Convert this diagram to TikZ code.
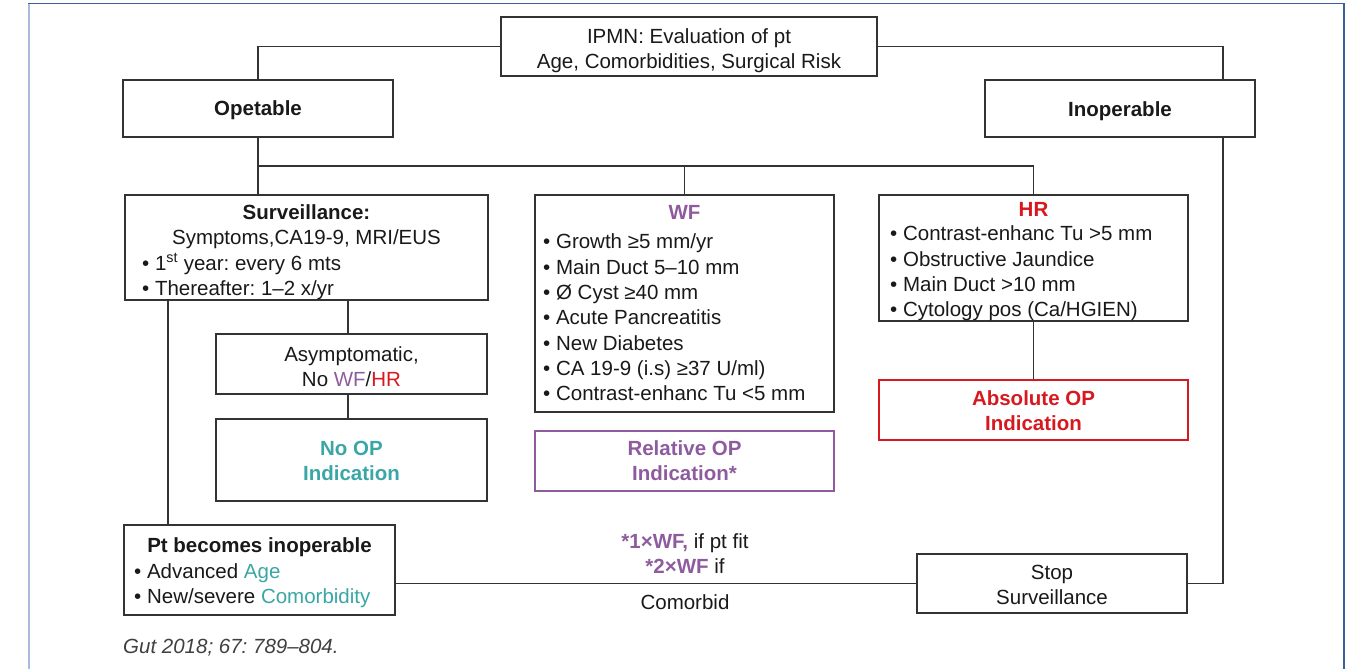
\documentclass[tikz,border=0pt]{standalone}
\usepackage{fontspec}
\setmainfont{Liberation Sans}
\frenchspacing
\definecolor{wfc}{HTML}{8E5C9E}
\definecolor{hrc}{HTML}{D7191F}
\definecolor{tealc}{HTML}{3AA6A6}
\definecolor{linec}{HTML}{333333}
\definecolor{frameL}{HTML}{A9BCDD}
\definecolor{frameT}{HTML}{3A5FA0}
\tikzset{
  box/.style={draw=linec, line width=1.4pt, rectangle, inner sep=0pt},
  rbox/.style={draw=hrc, line width=2.8pt, rectangle, inner sep=0pt},
  pbox/.style={draw=wfc, line width=2.8pt, rectangle, inner sep=0pt},
  txt/.style={inner sep=0pt, align=center, text=black!90,
    font=\fontsize{20.5}{25.3}\selectfont\frenchspacing},
  ltxt/.style={inner sep=0pt, align=left, anchor=west, text=black!90,
    font=\fontsize{20.5}{25.3}\selectfont\frenchspacing},
  conn/.style={draw=linec, line width=1.3pt},
}
\begin{document}
\begin{tikzpicture}[x=1pt, y=-1pt]
\useasboundingbox (0,0) rectangle (1354,669);
% frame
\draw[frameL, line width=2.5pt] (29,669) -- (29,4);
\draw[frameT, line width=1.2pt] (28,3.5) -- (1344,3.5) -- (1344,669);

% coordinates for connector columns
\coordinate (rx) at (1223,0);
\coordinate (lx) at (168,0);
\coordinate (ax) at (348,0);
\coordinate (br) at (0,166);

% boxes
\node[box, minimum width=376pt, minimum height=59pt] (ipmn) at (689,46.5) {};
\node[box, minimum width=270pt, minimum height=57pt] (ope) at (258,108.5) {};
\node[box, minimum width=270pt, minimum height=57pt] (inop) at (1120,108.5) {};
\node[box, minimum width=363pt, minimum height=105pt] (surv) at (306.5,247.5) {};
\node[box, minimum width=299pt, minimum height=217pt] (wf) at (684.5,303.5) {};
\node[box, minimum width=309pt, minimum height=126pt] (hr) at (1033.5,258) {};
\node[box, minimum width=271pt, minimum height=60pt] (asym) at (351.5,364) {};
\node[box, minimum width=271pt, minimum height=82pt] (noop) at (351.5,460) {};
\node[pbox, minimum width=299pt, minimum height=60pt] (rel) at (684.5,461) {};
\node[rbox, minimum width=309pt, minimum height=60pt] (abs) at (1033.5,410) {};
\node[box, minimum width=271pt, minimum height=90pt] (pt) at (259.5,570) {};
\node[box, minimum width=270pt, minimum height=59pt] (stop) at (1052,583.5) {};

% connectors
\draw[conn] (ipmn.west) -| (ope.north);
\draw[conn] (ipmn.east) -| (inop.north -| rx);
\draw[conn] (ope.south) -- (ope.south |- surv.north);
\draw[conn] (ope.south |- br) -| (hr.north);
\draw[conn] (wf.north |- br) -- (wf.north);
\draw[conn] (surv.south -| lx) -- (pt.north -| lx);
\draw[conn] (surv.south -| ax) -- (asym.north -| ax);
\draw[conn] (asym.south -| ax) -- (noop.north -| ax);
\draw[conn] (hr.south) -- (abs.north);
\draw[conn] (inop.south -| rx) |- (stop.east);
\draw[conn] (pt.east |- stop.west) -- (stop.west);

% texts
\node[txt] (tipmn) at (689,50.5) {IPMN: Evaluation of pt\\Age, Comorbidities, Surgical Risk};
\node[txt] (tope) at (258,110) {\bfseries Opetable};
\node[txt] (tinop) at (1120,111.5) {\bfseries Inoperable};

\node[txt] (tsurv1) at (306.5,226.5) {\bfseries Surveillance:\\Symptoms,CA19-9, MRI/EUS};
\node[ltxt] (tsurv2) at (142,276.5) {• 1\textsuperscript{st} year: every 6 mts\\• Thereafter: 1–2 x/yr};

\node[txt, text=wfc] (twf) at (684.5,212.5) {\bfseries WF};
\node[ltxt] (twf2) at (543,317.5) {• Growth ≥5 mm/yr\\• Main Duct 5–10 mm\\• Ø Cyst ≥40 mm\\• Acute Pancreatitis\\• New Diabetes\\• CA 19-9 (i.s) ≥37 U/ml)\\• Contrast-enhanc Tu <5 mm};

\node[txt, text=hrc] (thr) at (1033.5,209) {\bfseries HR};
\node[ltxt] (thr2) at (890,273.5) {• Contrast-enhanc Tu >5 mm\\• Obstructive Jaundice\\• Main Duct >10 mm\\• Cytology pos (Ca/HGIEN)};

\node[txt] (tasym) at (351.5,366.5) {Asymptomatic,\\No \textcolor{wfc}{WF}/\textcolor{hrc}{HR}};
\node[txt, text=tealc] (tnoop) at (351.5,461) {\bfseries No OP\\\bfseries Indication};
\node[txt, text=wfc] (trel) at (684.5,461) {\bfseries Relative OP\\\bfseries Indication*};
\node[txt, text=hrc] (tabs) at (1033.5,410.5) {\bfseries Absolute OP\\\bfseries Indication};

\node[txt] (tpt1) at (259.5,547) {\bfseries Pt becomes inoperable};
\node[ltxt] (tpt2) at (134,585.5) {• Advanced \textcolor{tealc}{Age}\\• New/severe \textcolor{tealc}{Comorbidity}};

\node[txt] (tstop) at (1052,585) {Stop\\Surveillance};

\node[txt] (tnote) at (685,553.5) {\textcolor{wfc}{\bfseries *1×WF,} if pt fit\\\textcolor{wfc}{\bfseries *2×WF} if};
\node[txt] (tcom) at (685,602) {Comorbid};

\node[ltxt, text=black!75] (tgut) at (123,648) {\itshape Gut 2018; 67: 789–804.};
\end{tikzpicture}
\end{document}
